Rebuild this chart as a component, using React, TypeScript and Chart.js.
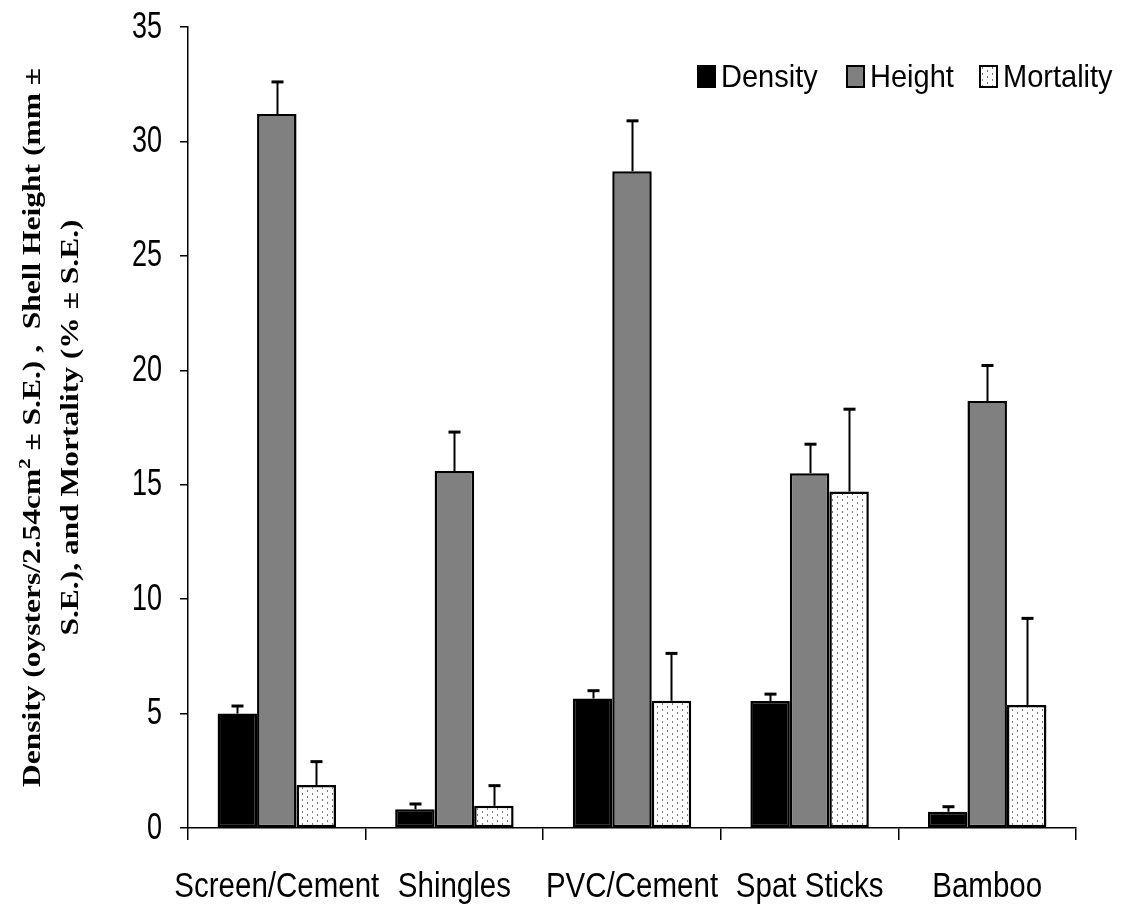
import React, { useEffect, useRef } from "react";
import { Chart, registerables } from "chart.js";

Chart.register(...registerables);

const categories = ["Screen/Cement", "Shingles", "PVC/Cement", "Spat Sticks", "Bamboo"];
const seriesLabels = ["Density", "Height", "Mortality"];
const densityValues = [5.0, 0.82, 5.66, 5.55, 0.71];
const densityErrors = [0.33, 0.23, 0.34, 0.3, 0.22];
const heightValues = [31.2, 15.6, 28.7, 15.5, 18.66];
const heightErrors = [1.4, 1.7, 2.2, 1.27, 1.55];
const mortalityValues = [1.88, 0.97, 5.56, 14.7, 5.37];
const mortalityErrors = [1.02, 0.88, 2.07, 3.6, 3.79];
const yMin = 0;
const yMax = 35;
const yStep = 5;
const titleLine1 = ["Density (oysters/2.54cm", "2", " \u00b1 S.E.) ,  Shell Height (mm \u00b1"];
const titleLine2 = "S.E.), and Mortality (% \u00b1 S.E.)";

const SANS = "'Liberation Sans', Arial, sans-serif";
const SERIF = "'Liberation Serif', 'Times New Roman', serif";

function makePattern(ctx: CanvasRenderingContext2D) {
  const pc = document.createElement("canvas");
  pc.width = 10;
  pc.height = 6;
  const p = pc.getContext("2d")!;
  p.fillStyle = "#ffffff";
  p.fillRect(0, 0, 10, 6);
  p.fillStyle = "#7a7a7a";
  p.fillRect(2, 1, 1, 2);
  p.fillRect(7, 4, 1, 2);
  return ctx.createPattern(pc, "repeat")!;
}

const whiteBg = {
  id: "whiteBg",
  beforeDraw(chart: any) {
    const c = chart.ctx;
    c.save();
    c.fillStyle = "#ffffff";
    c.fillRect(0, 0, chart.width, chart.height);
    c.restore();
  },
};

const errorBars = {
  id: "errorBars",
  afterDatasetsDraw(chart: any) {
    const c = chart.ctx;
    const yScale = chart.scales.y;
    c.save();
    c.strokeStyle = "#000";
    chart.data.datasets.forEach((ds: any, i: number) => {
      const meta = chart.getDatasetMeta(i);
      meta.data.forEach((bar: any, j: number) => {
        const v = ds.data[j];
        const e = ds.errors[j];
        const yTop = yScale.getPixelForValue(v + e);
        const x = Math.round(bar.x) + 0.5;
        c.lineWidth = 2;
        c.beginPath();
        c.moveTo(x, bar.y);
        c.lineTo(x, yTop);
        c.stroke();
        c.lineWidth = 3;
        c.beginPath();
        c.moveTo(x - 6, yTop);
        c.lineTo(x + 6, yTop);
        c.stroke();
      });
    });
    c.restore();
  },
};

const tickLabels = {
  id: "tickLabels",
  afterDraw(chart: any) {
    const c = chart.ctx;
    const ys = chart.scales.y;
    const xs = chart.scales.x;
    c.save();
    c.fillStyle = "#000";
    c.textBaseline = "alphabetic";
    // y tick labels
    c.font = `27px ${SANS}`;
    c.textAlign = "right";
    ys.ticks.forEach((t: any) => {
      const py = ys.getPixelForValue(t.value);
      c.save();
      c.translate(ys.right - 26, py + 10.5);
      c.scale(1, 1.4);
      c.fillText(String(t.value), 0, 0);
      c.restore();
    });
    // x tick labels
    c.font = `29.5px ${SANS}`;
    c.textAlign = "center";
    chart.data.labels.forEach((lab: string, i: number) => {
      const px = xs.getPixelForTick(i);
      c.save();
      c.translate(px, xs.top + 69);
      c.scale(1, 1.18);
      c.fillText(lab, 0, 0);
      c.restore();
    });
    c.restore();
  },
};

const customLegend = {
  id: "customLegend",
  afterDraw(chart: any) {
    const c = chart.ctx;
    const xs = [698, 847, 980];
    c.save();
    c.font = `29px ${SANS}`;
    c.textBaseline = "alphabetic";
    c.textAlign = "left";
    chart.data.datasets.forEach((ds: any, i: number) => {
      const x = xs[i];
      c.fillStyle = ds.backgroundColor;
      c.fillRect(x, 66, 17, 21);
      c.strokeStyle = "#000";
      c.lineWidth = 2;
      c.strokeRect(x, 66, 17, 21);
      c.fillStyle = "#000";
      c.save();
      c.translate(x + 23, 87);
      c.scale(1, 1.05);
      c.fillText(ds.label, 0, 0);
      c.restore();
    });
    c.restore();
  },
};

const yTitle = {
  id: "yTitle",
  afterDraw(chart: any) {
    const c = chart.ctx;
    const area = chart.chartArea;
    const cy = (area.top + area.bottom) / 2;
    const normal = `bold 26px ${SERIF}`;
    const sup = `bold 17px ${SERIF}`;
    c.save();
    c.fillStyle = "#000";
    c.textBaseline = "alphabetic";
    c.textAlign = "left";
    c.font = normal;
    const w0 = c.measureText(titleLine1[0]).width;
    c.font = sup;
    const w1 = c.measureText(titleLine1[1]).width;
    c.font = normal;
    const w2 = c.measureText(titleLine1[2]).width;
    const total = w0 + w1 + w2;
    const target = 719;
    const sx = target / total;
    c.save();
    c.translate(40, cy);
    c.rotate(-Math.PI / 2);
    c.scale(sx, 1);
    let x = -total / 2;
    c.font = normal;
    c.fillText(titleLine1[0], x, 0);
    x += w0;
    c.font = sup;
    c.fillText(titleLine1[1], x, -10);
    x += w1;
    c.font = normal;
    c.fillText(titleLine1[2], x, 0);
    c.restore();
    c.save();
    c.translate(78, cy);
    c.rotate(-Math.PI / 2);
    c.scale(sx, 1);
    c.font = normal;
    const wl2 = c.measureText(titleLine2).width;
    c.fillText(titleLine2, -wl2 / 2, 0);
    c.restore();
    c.restore();
  },
};

export default function App() {
  const ref = useRef<HTMLCanvasElement>(null);
  useEffect(() => {
    const canvas = ref.current!;
    const ctx = canvas.getContext("2d")!;
    const pattern = makePattern(ctx);
    const barCommon = {
      borderColor: "#000",
      borderWidth: 2.5,
      borderSkipped: false as const,
      categoryPercentage: 0.667,
      barPercentage: 1.0,
    };
    const chart = new Chart(ctx, {
      type: "bar",
      data: {
        labels: categories,
        datasets: [
          { label: seriesLabels[0], data: densityValues, errors: densityErrors, backgroundColor: "#000000", ...barCommon } as any,
          { label: seriesLabels[1], data: heightValues, errors: heightErrors, backgroundColor: "#808080", ...barCommon } as any,
          { label: seriesLabels[2], data: mortalityValues, errors: mortalityErrors, backgroundColor: pattern, ...barCommon } as any,
        ],
      },
      options: {
        responsive: false,
        animation: false,
        layout: { padding: { left: 0, top: 27, right: 48, bottom: 0 } },
        plugins: {
          legend: { display: false },
          tooltip: { enabled: false },
          title: { display: false },
        },
        scales: {
          x: {
            grid: { display: true, offset: true, drawOnChartArea: false, tickLength: 12, color: "#000", lineWidth: 1.5 },
            border: { display: true, color: "#000", width: 1.5 },
            ticks: { display: false, autoSkip: false },
            afterFit: (scale: any) => {
              scale.height = 81;
            },
          },
          y: {
            min: yMin,
            max: yMax,
            grid: { display: true, drawOnChartArea: false, tickLength: 8, color: "#000", lineWidth: 1.5 },
            border: { display: true, color: "#000", width: 1.5 },
            ticks: { display: false, stepSize: yStep },
            afterFit: (scale: any) => {
              scale.width = 188;
            },
          },
        },
      },
      plugins: [whiteBg, errorBars, tickLabels, customLegend, yTitle],
    });
    return () => chart.destroy();
  }, []);
  return (
    <div style={{ position: "absolute", left: 0, top: 0, width: 1124, height: 909, background: "#fff" }}>
      <canvas ref={ref} width={1124} height={909} style={{ display: "block" }} />
    </div>
  );
}
